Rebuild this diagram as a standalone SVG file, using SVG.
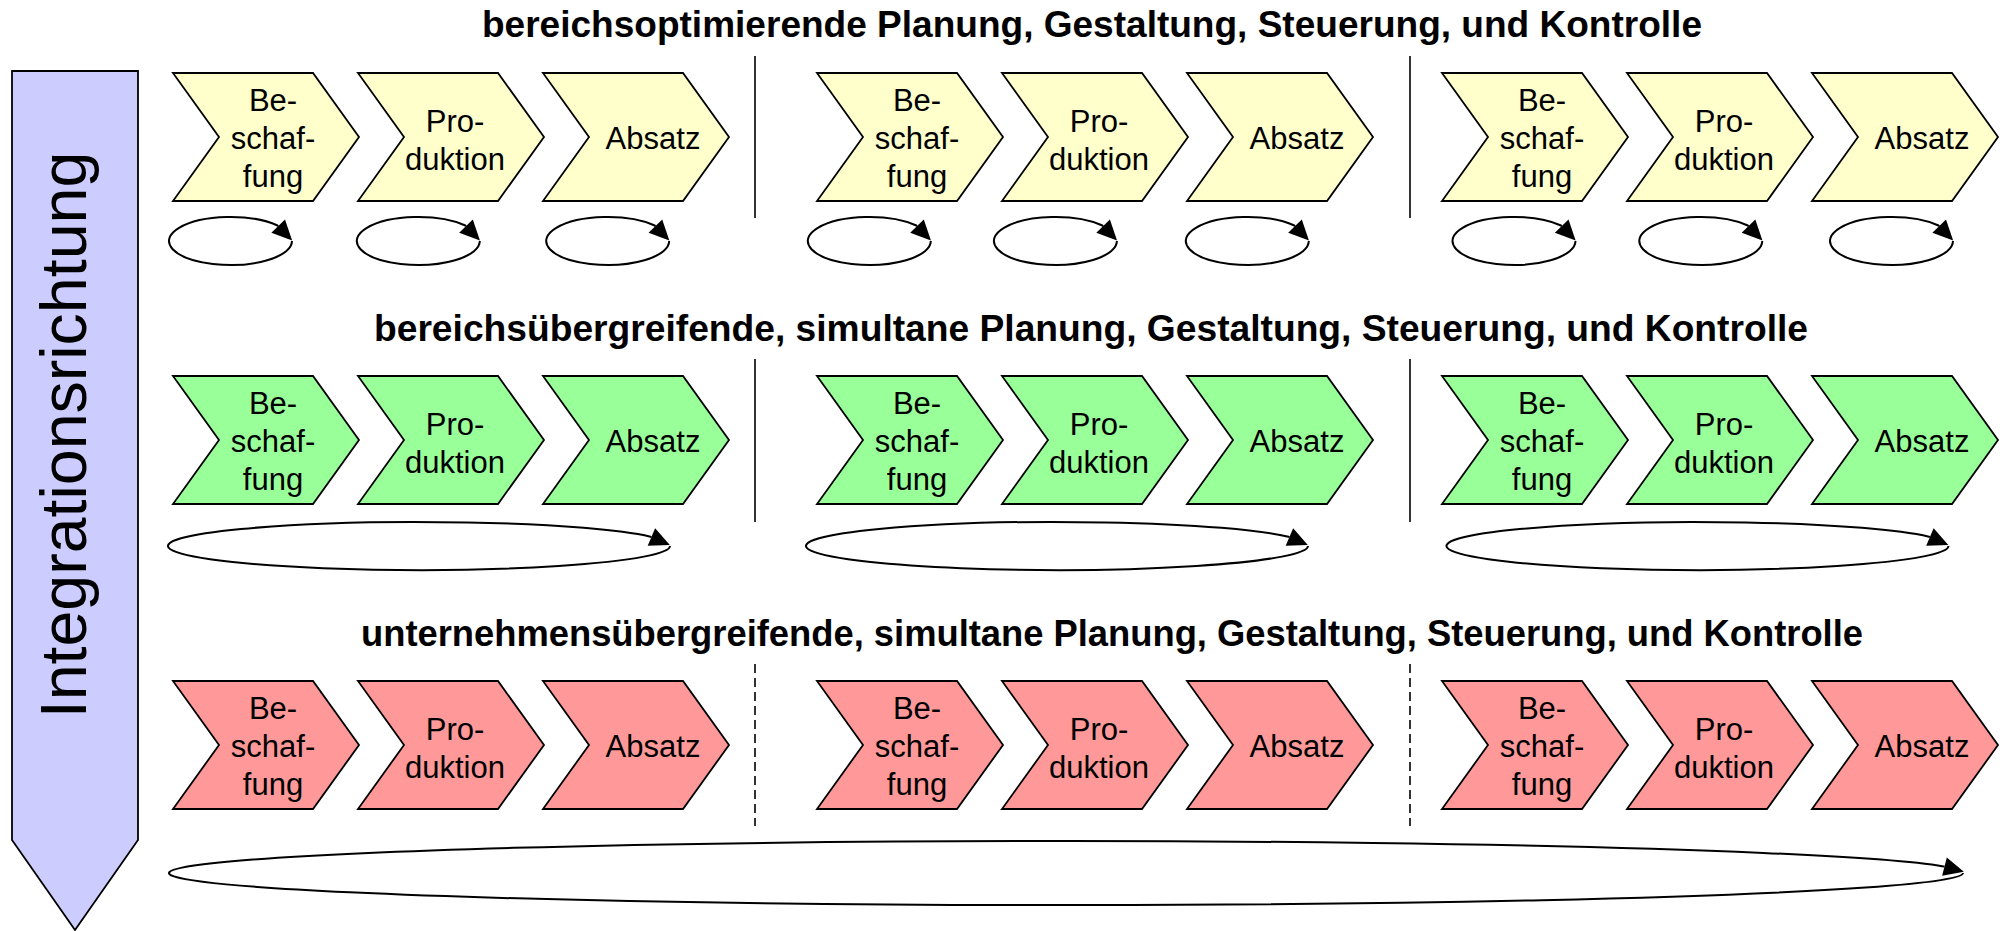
<svg xmlns="http://www.w3.org/2000/svg" xmlns:xlink="http://www.w3.org/1999/xlink" width="2006" height="931" viewBox="0 0 2006 931">
<style>
.y{fill:#ffffcc}.g{fill:#99ff99}.r{fill:#ff9999}
.chev{stroke:#000;stroke-width:1.8;stroke-linejoin:miter}
.lbl{font-family:"Liberation Sans",Arial,sans-serif;font-size:31px;text-anchor:middle;fill:#000}
.ttl{font-family:"Liberation Sans",Arial,sans-serif;font-size:36px;font-weight:bold;fill:#000}
.loop{fill:none;stroke:#000;stroke-width:2;marker-end:url(#ah)}
.sep{stroke:#000;stroke-width:1.6}
.dash{stroke-dasharray:9,5}
</style>
<defs>
<path id="chev" d="M0,0 H140 L186,64 L140,128 H0 L46,64 Z"/>
<marker id="ah" markerUnits="userSpaceOnUse" viewBox="0 -10 20 20" refX="0" refY="0" markerWidth="20" markerHeight="20" orient="auto" overflow="visible">
<path d="M0,-9.5 L20,0 L0,9.5 Z" fill="#000"/>
</marker>
</defs>
<rect width="2006" height="931" fill="#fff"/>

<g id="integrationsrichtung">
<polygon points="12,71 138,71 138,840 75,930 12,840" fill="#ccccff" stroke="#000" stroke-width="1.8"/>
<text transform="translate(86,435) rotate(-90)" font-family="Liberation Sans, Arial, sans-serif" font-size="64.5" text-anchor="middle">Integrationsrichtung</text>
</g>

<g id="titles">
<text class="ttl" x="482" y="37" textLength="1220" lengthAdjust="spacingAndGlyphs">bereichsoptimierende Planung, Gestaltung, Steuerung, und Kontrolle</text>
<text class="ttl" x="374" y="341" textLength="1434" lengthAdjust="spacingAndGlyphs">bereichsübergreifende, simultane Planung, Gestaltung, Steuerung, und Kontrolle</text>
<text class="ttl" x="361" y="646" textLength="1502" lengthAdjust="spacingAndGlyphs">unternehmensübergreifende, simultane Planung, Gestaltung, Steuerung, und Kontrolle</text>
</g>

<!-- Row 1 -->
<g id="r1-g1-beschaffung" transform="translate(173,73)"><use href="#chev" class="chev y"/><text class="lbl" x="100" y="38">Be-</text><text class="lbl" x="100" y="76">schaf-</text><text class="lbl" x="100" y="114">fung</text></g>
<g id="r1-g1-produktion" transform="translate(358,73)"><use href="#chev" class="chev y"/><text class="lbl" x="97" y="59">Pro-</text><text class="lbl" x="97" y="97">duktion</text></g>
<g id="r1-g1-absatz" transform="translate(543,73)"><use href="#chev" class="chev y"/><text class="lbl" x="110" y="76">Absatz</text></g>
<g id="r1-g2-beschaffung" transform="translate(817,73)"><use href="#chev" class="chev y"/><text class="lbl" x="100" y="38">Be-</text><text class="lbl" x="100" y="76">schaf-</text><text class="lbl" x="100" y="114">fung</text></g>
<g id="r1-g2-produktion" transform="translate(1002,73)"><use href="#chev" class="chev y"/><text class="lbl" x="97" y="59">Pro-</text><text class="lbl" x="97" y="97">duktion</text></g>
<g id="r1-g2-absatz" transform="translate(1187,73)"><use href="#chev" class="chev y"/><text class="lbl" x="110" y="76">Absatz</text></g>
<g id="r1-g3-beschaffung" transform="translate(1442,73)"><use href="#chev" class="chev y"/><text class="lbl" x="100" y="38">Be-</text><text class="lbl" x="100" y="76">schaf-</text><text class="lbl" x="100" y="114">fung</text></g>
<g id="r1-g3-produktion" transform="translate(1627,73)"><use href="#chev" class="chev y"/><text class="lbl" x="97" y="59">Pro-</text><text class="lbl" x="97" y="97">duktion</text></g>
<g id="r1-g3-absatz" transform="translate(1812,73)"><use href="#chev" class="chev y"/><text class="lbl" x="110" y="76">Absatz</text></g>

<!-- Row 2 -->
<g id="r2-g1-beschaffung" transform="translate(173,376)"><use href="#chev" class="chev g"/><text class="lbl" x="100" y="38">Be-</text><text class="lbl" x="100" y="76">schaf-</text><text class="lbl" x="100" y="114">fung</text></g>
<g id="r2-g1-produktion" transform="translate(358,376)"><use href="#chev" class="chev g"/><text class="lbl" x="97" y="59">Pro-</text><text class="lbl" x="97" y="97">duktion</text></g>
<g id="r2-g1-absatz" transform="translate(543,376)"><use href="#chev" class="chev g"/><text class="lbl" x="110" y="76">Absatz</text></g>
<g id="r2-g2-beschaffung" transform="translate(817,376)"><use href="#chev" class="chev g"/><text class="lbl" x="100" y="38">Be-</text><text class="lbl" x="100" y="76">schaf-</text><text class="lbl" x="100" y="114">fung</text></g>
<g id="r2-g2-produktion" transform="translate(1002,376)"><use href="#chev" class="chev g"/><text class="lbl" x="97" y="59">Pro-</text><text class="lbl" x="97" y="97">duktion</text></g>
<g id="r2-g2-absatz" transform="translate(1187,376)"><use href="#chev" class="chev g"/><text class="lbl" x="110" y="76">Absatz</text></g>
<g id="r2-g3-beschaffung" transform="translate(1442,376)"><use href="#chev" class="chev g"/><text class="lbl" x="100" y="38">Be-</text><text class="lbl" x="100" y="76">schaf-</text><text class="lbl" x="100" y="114">fung</text></g>
<g id="r2-g3-produktion" transform="translate(1627,376)"><use href="#chev" class="chev g"/><text class="lbl" x="97" y="59">Pro-</text><text class="lbl" x="97" y="97">duktion</text></g>
<g id="r2-g3-absatz" transform="translate(1812,376)"><use href="#chev" class="chev g"/><text class="lbl" x="110" y="76">Absatz</text></g>

<!-- Row 3 -->
<g id="r3-g1-beschaffung" transform="translate(173,681)"><use href="#chev" class="chev r"/><text class="lbl" x="100" y="38">Be-</text><text class="lbl" x="100" y="76">schaf-</text><text class="lbl" x="100" y="114">fung</text></g>
<g id="r3-g1-produktion" transform="translate(358,681)"><use href="#chev" class="chev r"/><text class="lbl" x="97" y="59">Pro-</text><text class="lbl" x="97" y="97">duktion</text></g>
<g id="r3-g1-absatz" transform="translate(543,681)"><use href="#chev" class="chev r"/><text class="lbl" x="110" y="76">Absatz</text></g>
<g id="r3-g2-beschaffung" transform="translate(817,681)"><use href="#chev" class="chev r"/><text class="lbl" x="100" y="38">Be-</text><text class="lbl" x="100" y="76">schaf-</text><text class="lbl" x="100" y="114">fung</text></g>
<g id="r3-g2-produktion" transform="translate(1002,681)"><use href="#chev" class="chev r"/><text class="lbl" x="97" y="59">Pro-</text><text class="lbl" x="97" y="97">duktion</text></g>
<g id="r3-g2-absatz" transform="translate(1187,681)"><use href="#chev" class="chev r"/><text class="lbl" x="110" y="76">Absatz</text></g>
<g id="r3-g3-beschaffung" transform="translate(1442,681)"><use href="#chev" class="chev r"/><text class="lbl" x="100" y="38">Be-</text><text class="lbl" x="100" y="76">schaf-</text><text class="lbl" x="100" y="114">fung</text></g>
<g id="r3-g3-produktion" transform="translate(1627,681)"><use href="#chev" class="chev r"/><text class="lbl" x="97" y="59">Pro-</text><text class="lbl" x="97" y="97">duktion</text></g>
<g id="r3-g3-absatz" transform="translate(1812,681)"><use href="#chev" class="chev r"/><text class="lbl" x="110" y="76">Absatz</text></g>

<g id="separators">
<line class="sep" x1="755" y1="56" x2="755" y2="218"/>
<line class="sep" x1="1410" y1="56" x2="1410" y2="218"/>
<line class="sep" x1="755" y1="359" x2="755" y2="522"/>
<line class="sep" x1="1410" y1="359" x2="1410" y2="522"/>
<line class="sep dash" x1="755" y1="664" x2="755" y2="826"/>
<line class="sep dash" x1="1410" y1="664" x2="1410" y2="826"/>
</g>

<g id="connectors">
<path class="loop" d="M292,241 A61.5,24 0 1 1 277.5,225.5 l0.7,0.72"/>
<path class="loop" d="M479.8,241 A61.5,24 0 1 1 465.3,225.5 l0.7,0.72"/>
<path class="loop" d="M669.2,241 A61.5,24 0 1 1 654.7,225.5 l0.7,0.72"/>
<path class="loop" d="M930.8,241 A61.5,24 0 1 1 916.3,225.5 l0.7,0.72"/>
<path class="loop" d="M1116.9,241 A61.5,24 0 1 1 1102.4,225.5 l0.7,0.72"/>
<path class="loop" d="M1308.8,241 A61.5,24 0 1 1 1294.3,225.5 l0.7,0.72"/>
<path class="loop" d="M1575.5,241 A61.5,24 0 1 1 1561,225.5 l0.7,0.72"/>
<path class="loop" d="M1762.3,241 A61.5,24 0 1 1 1747.8,225.5 l0.7,0.72"/>
<path class="loop" d="M1953,241 A61.5,24 0 1 1 1938.5,225.5 l0.7,0.72"/>
<path class="loop" d="M670,546 A251,24 0 1 1 650.5,536.7 l0.92,0.39"/>
<path class="loop" d="M1308,546 A251,24 0 1 1 1288.5,536.7 l0.92,0.39"/>
<path class="loop" d="M1948.5,546 A251,24 0 1 1 1929,536.7 l0.92,0.39"/>
<path class="loop" d="M1963,873 A897,32 0 1 1 1943.5,866.4 l0.97,0.25"/>
</g>
</svg>
